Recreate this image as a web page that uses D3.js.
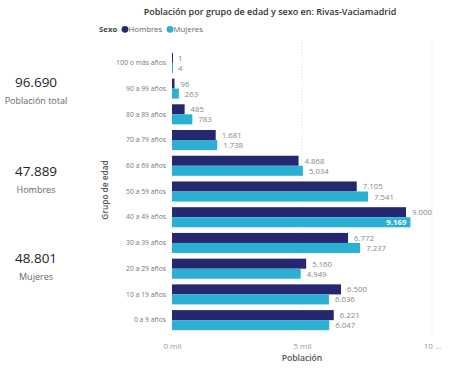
<!DOCTYPE html>
<html>
<head>
<meta charset="utf-8">
<script src="https://cdn.jsdelivr.net/npm/d3@7"></script>
<style>
  body { margin: 0; background: #fff; }
  text { font-family: "Open Sans", "Noto Sans", sans-serif; }
</style>
</head>
<body>
<svg id="chart" width="474" height="374"></svg>
<script>
var grupos = ["100 o más años", "90 a 99 años", "80 a 89 años", "70 a 79 años", "60 a 69 años",
  "50 a 59 años", "40 a 49 años", "30 a 39 años", "20 a 29 años", "10 a 19 años", "0 a 9 años"];
var hombres = [1, 96, 485, 1681, 4868, 7105, 9000, 6772, 5160, 6500, 6221];
var mujeres = [4, 263, 783, 1738, 5034, 7541, 9169, 7237, 4949, 6036, 6047];
var series = ["Hombres", "Mujeres"];
var colores = ["#25276f", "#2bb0d4"];
var ticks = [0, 5000, 10000];
var tickLabels = ["0 mil", "5 mil", "10 ..."];
var kpis = [["96.690", "Población total"], ["47.889", "Hombres"], ["48.801", "Mujeres"]];

var svg = d3.select("#chart");

// tarjetas de la izquierda
var kpiY = [87, 176, 263];
kpis.forEach(function(k, i) {
  svg.append("text").attr("x", 36).attr("y", kpiY[i]).attr("text-anchor", "middle")
    .attr("font-size", 13.5).attr("fill", "#252423").text(k[0]);
  svg.append("text").attr("x", 36).attr("y", kpiY[i] + 17).attr("text-anchor", "middle")
    .attr("font-size", 9).attr("fill", "#666").text(k[1]);
});

// titulo y leyenda
svg.append("text").attr("x", 270).attr("y", 15).attr("text-anchor", "middle")
  .attr("font-size", 9).attr("font-weight", 600).attr("fill", "#333")
  .text("Población por grupo de edad y sexo en: Rivas-Vaciamadrid");

svg.append("text").attr("x", 99).attr("y", 32).attr("font-size", 7.8)
  .attr("font-weight", 700).attr("fill", "#444").text("Sexo");
var legX = [125, 170];
series.forEach(function(s, i) {
  svg.append("circle").attr("cx", legX[i]).attr("cy", 29.3).attr("r", 3.4).attr("fill", colores[i]);
  svg.append("text").attr("x", legX[i] + 3.5).attr("y", 32).attr("font-size", 7.8)
    .attr("fill", "#666").text(s);
});

var x = d3.scaleLinear().domain([0, 10000]).range([172, 432]);
var y = d3.scaleBand().domain(grupos).range([50, 333]).paddingInner(0.22).paddingOuter(0.11);
var ySub = d3.scaleBand().domain(series).range([0, y.bandwidth()]);

// rejilla punteada
svg.selectAll(".grid").data(ticks.slice(1)).enter().append("line")
  .attr("x1", function(d) { return x(d); }).attr("x2", function(d) { return x(d); })
  .attr("y1", 40).attr("y2", 333)
  .attr("stroke", "#ddd").attr("stroke-dasharray", "1,2");

var xAxis = svg.append("g").attr("transform", "translate(0,340)")
  .call(d3.axisBottom(x).tickValues(ticks).tickSize(0).tickFormat(function(d, i) { return tickLabels[i]; }));
xAxis.select(".domain").remove();
xAxis.selectAll("text").attr("font-size", 8).attr("fill", "#999").attr("font-family", "Open Sans");

svg.append("text").attr("x", 302).attr("y", 361).attr("text-anchor", "middle")
  .attr("font-size", 8.6).attr("font-weight", 600).attr("fill", "#555").text("Población");

var yAxis = svg.append("g").attr("transform", "translate(169,0)")
  .call(d3.axisLeft(y).tickSize(0));
yAxis.select(".domain").remove();
yAxis.selectAll("text").attr("font-size", 6.8).attr("fill", "#777").attr("font-family", "Open Sans");

svg.append("text").attr("transform", "translate(108,190) rotate(-90)").attr("text-anchor", "middle")
  .attr("font-size", 8.3).attr("font-weight", 600).attr("fill", "#555").text("Grupo de edad");

var rows = grupos.map(function(g, i) {
  return { grupo: g, valores: [{ s: "Hombres", v: hombres[i] }, { s: "Mujeres", v: mujeres[i] }] };
});

var fmt = function(v) { return d3.format(",")(v).replace(/,/g, "."); };

var g = svg.selectAll(".grp").data(rows).enter().append("g")
  .attr("transform", function(d) { return "translate(0," + y(d.grupo) + ")"; });

g.selectAll("rect").data(function(d) { return d.valores; }).enter().append("rect")
  .attr("x", x(0))
  .attr("y", function(d) { return ySub(d.s); })
  .attr("width", function(d) { return Math.max(1, x(d.v) - x(0)); })
  .attr("height", ySub.bandwidth())
  .attr("fill", function(d, i) { return colores[i]; });

g.selectAll(".lbl").data(function(d) { return d.valores; }).enter().append("text")
  .attr("class", "lbl")
  .each(function(d) {
    var inside = x(d.v) + 32 > 432 && d.s === "Mujeres";
    d3.select(this)
      .attr("x", inside ? x(d.v) - 4 : x(d.v) + 6)
      .attr("text-anchor", inside ? "end" : "start")
      .attr("fill", inside ? "#fff" : "#888")
      .attr("font-weight", inside ? 700 : 400);
  })
  .attr("y", function(d) { return ySub(d.s) + ySub.bandwidth() / 2 + 3; })
  .attr("font-size", 7.8)
  .text(function(d) { return fmt(d.v); });
</script>
</body>
</html>
